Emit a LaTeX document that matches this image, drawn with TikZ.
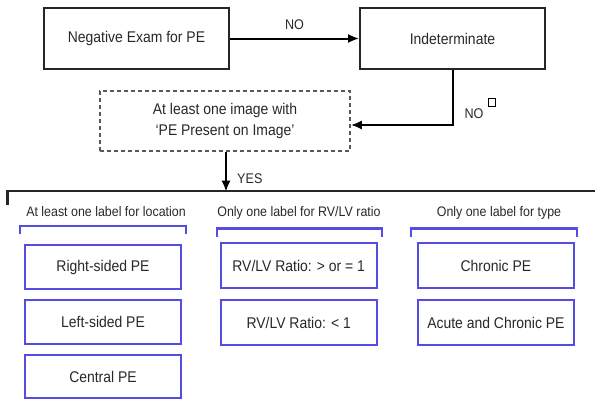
\documentclass[tikz,border=0pt]{standalone}
\usepackage{fontspec}
\setmainfont{Liberation Sans}[FakeStretch=0.9]
\usetikzlibrary{arrows.meta}
\definecolor{labelblue}{RGB}{86,76,226}
\definecolor{inkgray}{RGB}{40,40,40}
\tikzset{
  flowbox/.style={draw=black!85, line width=1.8pt, minimum width=185pt, minimum height=61pt,
    inner sep=0pt, text=inkgray, font=\fontsize{15.5}{17}\selectfont},
  choicebox/.style={draw=labelblue, line width=2.2pt, minimum height=45pt, inner sep=0pt,
    text=inkgray, font=\fontsize{15.5}{17}\selectfont, fill=white},
  header/.style={text=inkgray, font=\fontsize{13.8}{15}\selectfont, inner sep=0pt},
  smalllabel/.style={text=inkgray, font=\fontsize{14}{15}\selectfont, inner sep=0pt},
  bracketline/.style={draw=labelblue, line width=2.2pt},
  flowarrow/.style={draw=black, line width=2pt, -{Latex[length=11pt,width=9pt]}},
}
\begin{document}
\begin{tikzpicture}[x=1pt,y=-1pt]
\useasboundingbox (0,0) rectangle (595,400);

% decision flow at the top
\node[flowbox, minimum width=185pt] (neg) at (136.5,38.5) {Negative Exam for PE};
\node[flowbox, minimum width=185pt] (ind) at (452.5,38.5) {Indeterminate};
\node[flowbox, dashed, dash pattern=on 4pt off 3pt, draw=black!65, line width=1.6pt,
      minimum width=250pt, minimum height=60pt, align=center,
      font=\fontsize{15.5}{21.3}\selectfont] (img) at (225,120.7)
      {At least one image with\\`PE Present on Image'};

\draw[flowarrow] (neg.east) -- node[smalllabel, above=8pt] (no1) {NO} (ind.west);
\draw[flowarrow] (ind.south) |- ([yshift=-4.3pt]img.east);
\node[smalllabel] (no2) at (474,113.5) {NO};
\node[draw=black, line width=0.9pt, minimum width=7pt, minimum height=8pt, inner sep=0pt] (sq) at (492,102.5) {};

% bar that opens the three label groups
\coordinate (barL) at (7.5,190.7);
\coordinate (barR) at (595,190.7);
\coordinate (barT) at (7.5,205);
\coordinate (yesTip) at (226,190.7);
\draw[black!85, line width=2.2pt] (barT) -- (barL) -- (barR);
\draw[flowarrow] (img.south -| yesTip) -- ([yshift=-1pt]yesTip);
\node[smalllabel, anchor=west] (yes) at (237,178.5) {YES};

% group headers
\node[header] (h1) at (106,212) {At least one label for location};
\node[header] (h2) at (299,212.5) {Only one label for RV/LV ratio};
\node[header] (h3) at (499,213) {Only one label for type};

% blue brackets
\draw[bracketline] (20,233.5) -- (20,226) -- (185.7,226) -- (185.7,233.5);
\draw[bracketline] (216.7,236.7) -- (216.7,228.5) -- (381.7,228.5) -- (381.7,236.7);
\draw[bracketline] (410.7,237) -- (410.7,228.5) -- (576.7,228.5) -- (576.7,237);

% location labels
\node[choicebox, minimum width=156pt, minimum height=44pt] (rs) at (103,267) {Right-sided PE};
\node[choicebox, minimum width=156pt, minimum height=44pt] (ls) at (103,322) {Left-sided PE};
\node[choicebox, minimum width=156pt, minimum height=43pt] (cp) at (103,376.5) {Central PE};

% RV/LV ratio labels
\node[choicebox, minimum width=156pt] (r1) at (298.7,265.5) {RV/LV Ratio: > or = 1};
\node[choicebox, minimum width=156pt] (r2) at (298.7,322.5) {RV/LV Ratio: < 1};

% type labels
\node[choicebox, minimum width=156pt] (t1) at (495.9,265.5) {Chronic PE};
\node[choicebox, minimum width=156pt] (t2) at (495.9,322.5) {Acute and Chronic PE};
\end{tikzpicture}
\end{document}
